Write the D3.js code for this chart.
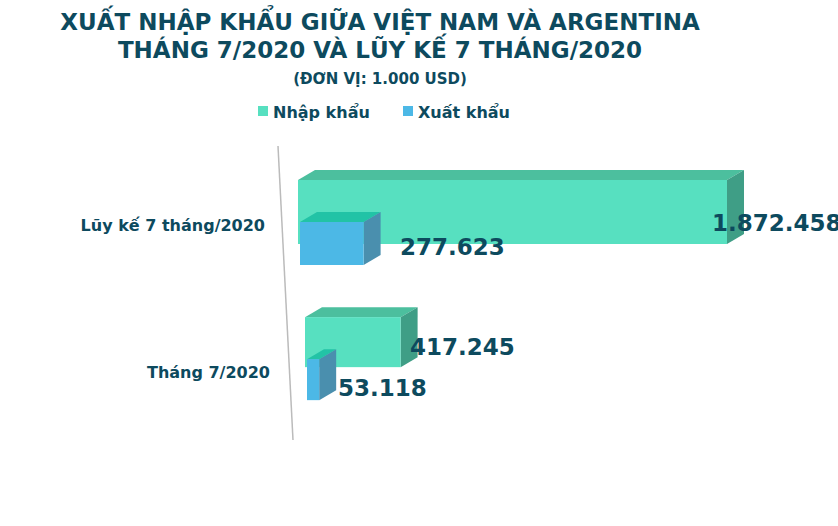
<!DOCTYPE html>
<html><head><meta charset="utf-8">
<script src="https://cdn.jsdelivr.net/npm/d3@7"></script>
<style>body{margin:0;background:#fff}</style></head>
<body><svg id="c" width="838" height="526"></svg>
<script>
const categories = ["Lũy kế 7 tháng/2020", "Tháng 7/2020"];
const seriesNames = ["Nhập khẩu", "Xuất khẩu"];
const nhapKhau = [1872458, 417245];
const xuatKhau = [277623, 53118];
const valueLabels = [["1.872.458","417.245"],["277.623","53.118"]];

const svg = d3.select("#c");
const dark = "#0d4a5e";
const font = "DejaVu Sans, Arial, sans-serif";
const title = ["XUẤT NHẬP KHẨU GIỮA VIỆT NAM VÀ ARGENTINA","THÁNG 7/2020 VÀ LŨY KẾ 7 THÁNG/2020"];
title.forEach((t,i)=>svg.append("text").attr("x",380).attr("y",30+i*28).attr("text-anchor","middle")
  .attr("font-family",font).attr("font-weight","bold").attr("font-size",23).attr("fill",dark).text(t));
svg.append("text").attr("x",380).attr("y",84).attr("text-anchor","middle").attr("font-family",font)
  .attr("font-weight","bold").attr("font-size",15).attr("fill",dark).text("(ĐƠN VỊ: 1.000 USD)");

const cols = [{front:"#57e0c0",top:"#4cbf9e",side:"#3f9e86"},{front:"#4cb8e6",top:"#22c3a6",side:"#4a8fae"}];
[[258,"Nhập khẩu"],[403,"Xuất khẩu"]].forEach(([x,t],i)=>{
  svg.append("rect").attr("x",x).attr("y",106).attr("width",10).attr("height",10).attr("fill",cols[i].front);
  svg.append("text").attr("x",x+15).attr("y",118).attr("font-family",font).attr("font-weight","bold")
    .attr("font-size",16).attr("fill",dark).text(t);
});
svg.append("line").attr("x1",278).attr("y1",146).attr("x2",293).attr("y2",440).attr("stroke","#bbb").attr("stroke-width",1.5);

const x = d3.scaleLinear().domain([0,1872458]).range([0,429]);
const catY = d3.scaleBand().domain(categories).range([170,410]).paddingInner(0.25);
const baseX = [298, 305];
const dx=17, dy=-10;
const bars = [];
categories.forEach((c,ci)=>{
  const y0=catY(c);
  [nhapKhau[ci],xuatKhau[ci]].forEach((v,si)=>{
    const h = si===0? (ci===0?64:50) : (ci===0?43:41);
    const yy = si===0? y0+10 : y0+52;
    bars.push({ci,si,v,x0:baseX[ci]+si*2,y:yy,h});
  });
});
bars.forEach(b=>{
  const x1=b.x0+x(b.v), col=cols[b.si];
  const g=svg.append("g");
  g.append("polygon").attr("points",[[b.x0,b.y],[b.x0+dx,b.y+dy],[x1+dx,b.y+dy],[x1,b.y]].join(" ")).attr("fill",col.top);
  g.append("polygon").attr("points",[[x1,b.y],[x1+dx,b.y+dy],[x1+dx,b.y+b.h+dy],[x1,b.y+b.h]].join(" ")).attr("fill",col.side);
  g.append("rect").attr("x",b.x0).attr("y",b.y).attr("width",x1-b.x0).attr("height",b.h).attr("fill",col.front);
});
const lblPos = [[[712,231],[410,355]],[[400,255],[338,396]]];
[0,1].forEach(si=>[0,1].forEach(ci=>{
  svg.append("text").attr("x",lblPos[si][ci][0]).attr("y",lblPos[si][ci][1]).attr("font-family",font)
    .attr("font-weight","bold").attr("font-size",23).attr("fill",dark).text(valueLabels[si][ci]);
}));
[[265,231],[270,378]].forEach(([lx,ly],i)=>svg.append("text").attr("x",lx).attr("y",ly).attr("text-anchor","end")
  .attr("font-family",font).attr("font-weight","bold").attr("font-size",16).attr("fill",dark).text(categories[i]));
</script></body></html>
